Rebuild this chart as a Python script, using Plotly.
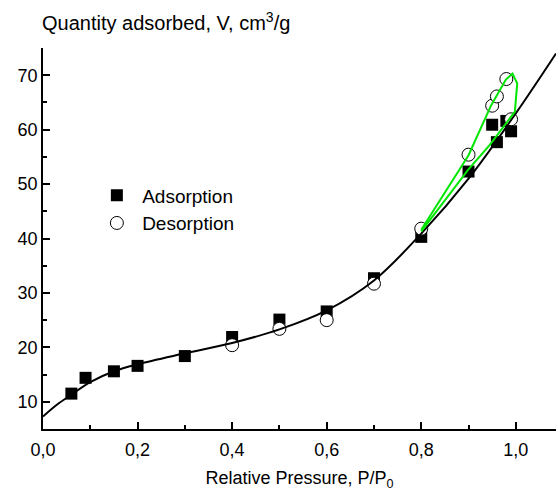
import plotly.graph_objects as go

# Adsorption (filled squares)
ads_x = [0.06, 0.09, 0.15, 0.20, 0.30, 0.40, 0.50, 0.60, 0.70, 0.80, 0.90, 0.95, 0.96, 0.98, 0.99]
ads_y = [11.5, 14.4, 15.6, 16.6, 18.4, 21.9, 25.1, 26.6, 32.7, 40.3, 52.3, 60.9, 57.7, 61.6, 59.7]

# Desorption (open circles)
des_x = [0.40, 0.50, 0.60, 0.70, 0.80, 0.90, 0.95, 0.96, 0.98, 0.99]
des_y = [20.4, 23.4, 25.0, 31.7, 41.8, 55.4, 64.4, 66.1, 69.3, 61.9]

# Black fitted curve
fit_x = [0.0, 0.03, 0.06, 0.10, 0.15, 0.20, 0.30, 0.40, 0.50, 0.60, 0.70, 0.80, 0.90, 1.00, 1.085]
fit_y = [7.3, 9.5, 11.3, 13.6, 15.6, 16.9, 18.9, 20.8, 23.3, 26.8, 32.3, 40.9, 51.0, 63.0, 74.0]

# Green hysteresis loop
loop_x = [0.80, 0.90, 0.948, 0.96, 0.979, 0.993, 1.003, 0.998, 0.945, 0.899, 0.80]
loop_y = [41.6, 55.3, 64.5, 66.3, 69.2, 70.3, 68.5, 63.3, 57.2, 52.6, 41.3]

FONT = "Arial, Liberation Sans, sans-serif"
FS = 18

fig = go.Figure()
fig.add_trace(go.Scatter(x=ads_x, y=ads_y, mode="markers", name="&nbsp;Adsorption",
                         marker=dict(symbol="square", size=12, color="black",
                                     line=dict(width=0))))
fig.add_trace(go.Scatter(x=des_x, y=des_y, mode="markers", name="&nbsp;Desorption",
                         marker=dict(symbol="circle", size=13, color="white",
                                     line=dict(width=1, color="black"))))
fig.add_trace(go.Scatter(x=fit_x, y=fit_y, mode="lines", showlegend=False,
                         line=dict(color="black", width=2, shape="spline", smoothing=1.0)))
fig.add_trace(go.Scatter(x=loop_x, y=loop_y, mode="lines", showlegend=False,
                         line=dict(color="#00e600", width=2)))

fig.update_layout(
    width=556, height=495,
    margin=dict(l=43, r=0, t=48, b=66),
    paper_bgcolor="white", plot_bgcolor="white",
    font=dict(family=FONT, size=FS, color="black"),
    legend=dict(x=0.105, y=0.663, xanchor="left", yanchor="top",
                font=dict(size=19), bgcolor="rgba(0,0,0,0)",
                itemwidth=30, tracegroupgap=0),
    xaxis=dict(range=[0, 1.085], tickvals=[0, 0.2, 0.4, 0.6, 0.8, 1.0],
               ticktext=["0,0", "0,2", "0,4", "0,6", "0,8", "1,0"],
               ticks="inside", ticklen=7, tickwidth=1.5, tickcolor="black",
               showline=True, linecolor="black", linewidth=1.5,
               showgrid=False, zeroline=False, ticklabelstandoff=4,
               minor=dict(tickvals=[0.1, 0.3, 0.5, 0.7, 0.9], ticks="inside",
                          ticklen=4, tickwidth=1.5, tickcolor="black"),
               title=dict(text="Relative Pressure, P/P<sub>0</sub>", standoff=12,
                          font=dict(size=FS)),
               tickfont=dict(size=FS)),
    yaxis=dict(range=[5, 75], tickvals=[10, 20, 30, 40, 50, 60, 70],
               ticks="inside", ticklen=7, tickwidth=1.5, tickcolor="black",
               showline=True, linecolor="black", linewidth=1.5,
               showgrid=False, zeroline=False,
               minor=dict(tickvals=[15, 25, 35, 45, 55, 65, 75], ticks="inside",
                          ticklen=4, tickwidth=1.5, tickcolor="black"),
               tickfont=dict(size=FS)),
    annotations=[dict(text="Quantity adsorbed, V, cm<sup>3</sup>/g",
                      xref="paper", yref="paper", x=-0.006, y=1.0,
                      xanchor="left", yanchor="bottom", yshift=12,
                      showarrow=False, font=dict(size=20))],
)

fig.write_html("out.html")
